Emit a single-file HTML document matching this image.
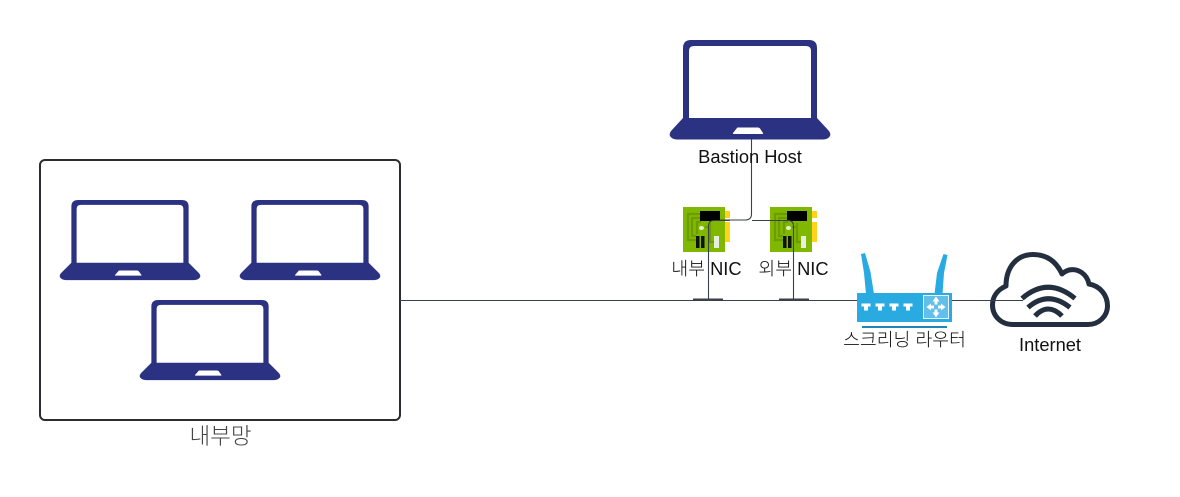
<!DOCTYPE html>
<html><head><meta charset="utf-8"><style>
html,body{margin:0;padding:0;background:#fff}
svg{display:block}
text{font-family:"Liberation Sans","Noto Sans CJK KR",sans-serif;fill:#111;text-anchor:middle;font-size:18.300px;font-weight:300}
</style></head><body>
<svg width="1180" height="497" viewBox="0 0 1180 497" xmlns="http://www.w3.org/2000/svg">
<defs>
<g id="lap">
<path fill-rule="evenodd" fill="#2b3282" d="M13 78V8Q13 0 21 0H139Q147 0 147 8V78L159 91Q161 94 160 96Q158 99.500 153 99.500H7Q2 99.500 0 96Q-1 94 1 91ZM19 78H141V11Q141 6 136 6H24Q19 6 19 11Z"/>
<path fill="#fff" d="M67 88Q67 87.500 68 87.500H88Q89 87.500 90 88.500L93 93Q93.500 94 92 94H64Q62.500 94 63 93Z"/>
</g>
<g id="nic">
<rect x="42" y="4" width="5" height="7" fill="#ffd31a"/>
<rect x="42" y="15" width="5" height="20" fill="#ffd31a"/>
<rect x="0" y="0" width="42" height="45" fill="#80b800"/>
<path d="M18 7H5V33H13M18 11H9V29H13M18 15H14V27M27 16V35H32M22 20H27" fill="none" stroke="#6d9c00" stroke-width="2.200"/>
<rect x="17" y="4" width="20" height="10" fill="#000"/>
<ellipse cx="18.500" cy="21" rx="2.500" ry="2" fill="#e6f0c8"/>
<rect x="13" y="29" width="3.500" height="12" fill="#111"/>
<rect x="18" y="29" width="3.500" height="12" fill="#111"/>
<rect x="31" y="29" width="5" height="12" fill="#e8eedd"/>
</g>
</defs>

<rect x="40" y="160" width="360" height="260" rx="5" fill="#fff" stroke="#2a2c31" stroke-width="2"/>
<use href="#lap" transform="translate(60 200) scale(.875 .805)"/>
<use href="#lap" transform="translate(240 200) scale(.875 .805)"/>
<use href="#lap" transform="translate(140 300) scale(.875 .805)"/>
<use href="#lap" x="670" y="40"/>

<use href="#nic" x="683" y="207"/>
<use href="#nic" x="770" y="207"/>

<!-- router -->
<path d="M861 254L865 253L870.500 272L874 294H866L864 273Z" fill="#29abe2"/>
<path d="M943.500 254L947.500 255L944 273L942.500 294H934.500L937 273Z" fill="#29abe2"/>
<rect x="857" y="293" width="95" height="29" fill="#29abe2"/>
<rect x="862" y="326" width="85" height="2" fill="#1d87b5"/>
<rect x="923.500" y="295.500" width="25" height="23" fill="#62bfe9" stroke="#e6f6fc"/>
<g fill="#fff">
<path d="M861.500 303.500H870.500V306.500H868V310.500H864V306.500H861.500Z"/>
<path d="M875.500 303.500H884.500V306.500H882V310.500H878V306.500H875.500Z"/>
<path d="M889.500 303.500H898.500V306.500H896V310.500H892V306.500H889.500Z"/>
<path d="M903.500 303.500H912.500V306.500H910V310.500H906V306.500H903.500Z"/>
<path d="M936 296.500L939.500 301.500H937.500V304.500H934.500V301.500H932.500Z"/>
<path d="M936 317.500L939.500 312.500H937.500V309.500H934.500V312.500H932.500Z"/>
<path d="M926.500 307L931 303.500V305.500H934V308.500H931V310.500Z"/>
<path d="M945.500 307L941 303.500V305.500H938V308.500H941V310.500Z"/>
</g>

<!-- cloud -->
<path d="M1013 324.500H1088C1099 324.500 1107.500 316 1107.500 306C1107.500 295 1100 286 1089 284C1087 274 1078 268 1069 270C1066 271 1064 272 1062 274C1056 261 1046 254.500 1033 254.500C1017 254.500 1006 267 1006 286C997 290 992.500 297 992.500 305C992.500 316 1001 324.500 1013 324.500Z" fill="#fff" stroke="#232f3e" stroke-width="5" stroke-linejoin="round"/>
<g fill="none" stroke="#232f3e" stroke-width="5">
<path d="M1022 298.500Q1048 276 1075 298.500"/>
<path d="M1028 307.500Q1048 290 1070 307.500"/>
<path d="M1035 316Q1048 302 1062 316"/>
</g>

<!-- connectors -->
<g fill="none" stroke="#3a414a" stroke-width="1.100">
<path d="M400 300.500H857M952 300.500H1023"/>
<path d="M751.500 139V214Q751.500 220 745 220H720"/>
<path d="M752 220.500H788Q793.500 220.500 793.500 226V299"/>
<path d="M730 220.500H714Q708.500 220.500 708.500 226V299"/>
</g>
<path d="M693 299.500H723M779 299.500H809" stroke="#3a414a" stroke-width="2"/>

<text x="750" y="163">Bastion Host</text>
<text x="706.500" y="275">내부 NIC</text>
<text x="793.500" y="275">외부 NIC</text>
<text x="904.500" y="346">스크리닝 라우터</text>
<text x="1050" y="351">Internet</text>
<text x="220.500" y="444" style="font-size:22.500px;fill:#444">내부망</text>
</svg>
</body></html>
